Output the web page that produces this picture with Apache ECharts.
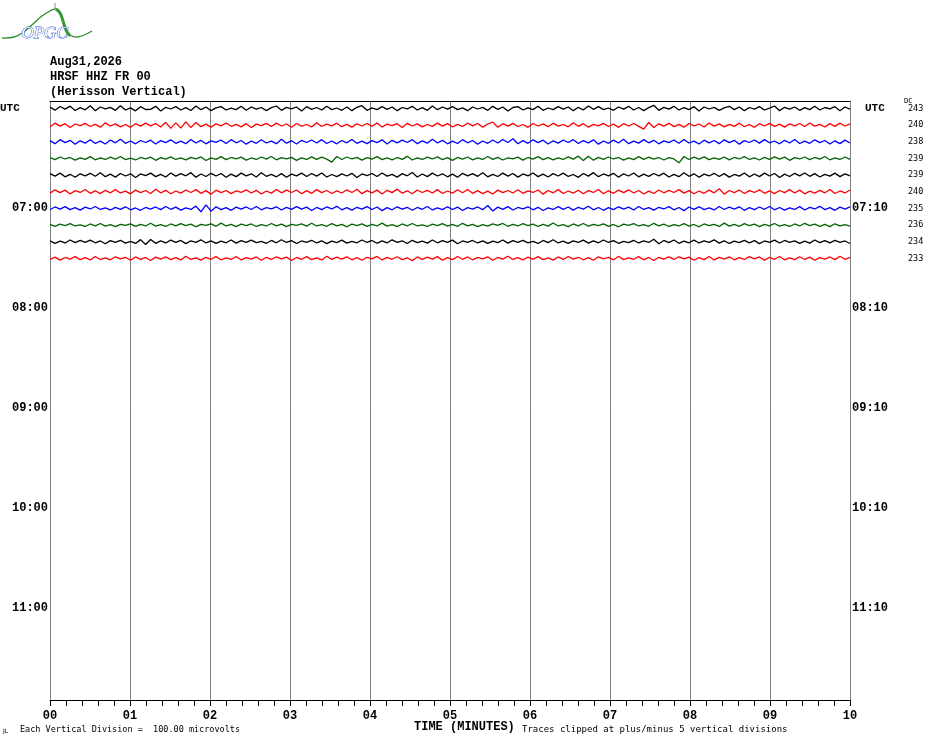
<!DOCTYPE html>
<html>
<head>
<meta charset="utf-8">
<script src="https://cdn.jsdelivr.net/npm/echarts@6/dist/echarts.min.js"></script>
<style>html,body{margin:0;padding:0;background:#fff}#c{width:930px;height:744px}</style>
</head>
<body>
<div id="c"></div>
<script>
// ---- data (microvolts, positive = up) ----
const minuteTicks = [0,1,2,3,4,5,6,7,8,9,10];
const leftTimeLabels = ['UTC','07:00','08:00','09:00','10:00','11:00'];
const rightTimeLabels = ['UTC','07:10','08:10','09:10','10:10','11:10'];
const labelRows = [0,6,12,18,24,30];
const dcValues = [243,240,238,239,239,240,235,236,234,233];
const uvPerDivision = 100;

const trace0600 = [8,-10,12,-4,14,-12,5,-8,16,-13,9,-2,7,-11,17,-9,4,-14,11,-6,
-5,13,-15,7,-3,11,-9,5,-12,15,-7,9,-13,4,11,-9,2,-7,13,-11,
9,-4,6,-13,5,15,-11,7,-2,9,-15,11,-5,6,-9,13,-7,3,-11,9,
-13,7,17,-11,4,-7,11,-5,9,-13,6,-3,13,-9,5,-11,15,-7,9,-4,
11,-7,4,-13,9,-3,7,-11,13,-5,9,-15,6,11,-9,4,-7,13,-11,3,
-7,11,-4,9,-13,7,-9,15,-5,11,-7,3,-11,9,-4,13,-9,6,-13,5,
19,-11,7,-4,13,-9,5,-7,11,-15,9,-3,7,-11,4,13,-7,9,-13,6,
-4,11,-9,2,15,-13,7,-4,9,-11,5,-7,13,-9,6,-2,11,-13,9,-4];
const trace0610 = [-10,12,-6,9,-14,7,-3,11,-8,5,-12,14,-5,8,-10,4,-13,9,-6,12,
-4,10,-11,17,-19,14,-18,20,-15,16,-9,6,-12,8,-4,13,-7,5,-10,9,
-14,6,-3,11,-8,12,-5,7,-13,10,-6,4,-11,15,-8,6,-4,12,-9,5,
-12,8,-5,10,-7,13,-11,6,-3,9,-14,11,-5,8,-10,4,-7,12,-6,9,
-11,5,-8,13,-4,10,-12,7,18,-13,9,-6,11,-8,4,-13,10,-5,8,-9,
12,-6,4,-10,14,-7,9,-12,5,-4,11,-8,6,-13,9,-5,10,-7,-24,16,
-14,8,-6,11,-9,5,-12,10,-4,7,-11,13,-6,8,-10,5,-7,12,-9,4,
-13,9,-5,11,-7,6,-12,8,-4,10,-8,13,-6,5,-11,9,-7,12,-5,8];
const trace0620 = [7,-11,13,-5,9,-14,6,-8,12,-10,4,-13,11,-6,15,-9,5,-12,8,-4,
10,-13,7,-5,12,-9,4,-11,14,-7,9,-12,6,-3,11,-10,13,-6,8,-14,
5,-9,12,-7,4,-11,16,-8,6,-13,9,-4,11,-7,13,-10,5,-12,8,-6,
14,-9,4,-11,7,-5,12,-13,9,-6,10,-4,13,-11,6,-8,15,-7,9,-12,
4,-10,13,-6,8,-14,5,-9,11,-7,14,-4,18,-12,7,-9,12,-5,10,-13,
6,-8,11,-4,13,-10,7,-6,12,-14,5,-9,10,-7,15,-11,4,-8,13,-6,
9,-12,6,-5,11,-9,14,-7,4,-13,10,-6,8,-11,12,-5,9,-14,7,-4,
11,-8,13,-6,5,-12,9,-7,14,-10,4,-9,12,-5,8,-13,6,-11,10,-7];
const trace0630 = [5,-7,9,-3,6,-10,4,-5,11,-8,3,-6,8,-4,12,-7,2,-9,6,-3,
8,-11,5,-4,10,-6,3,-8,7,-2,9,-12,4,-5,11,-7,6,-3,8,-10,
3,-6,9,-4,12,-8,5,-3,7,-11,4,-6,10,-5,8,-4,-22,12,-6,9,
-3,7,-10,5,-4,11,-7,3,-8,6,-5,13,-9,4,-6,8,-3,10,-7,5,
-11,6,-4,9,-8,3,-6,12,-5,7,-9,4,-3,8,-10,6,-4,11,-7,5,
-8,3,-6,10,-4,14,-12,13,-10,7,-5,9,-3,6,-10,4,-7,11,-5,8,
-4,6,-9,5,-3,-26,12,-6,8,-4,10,-7,3,-5,9,-8,6,-3,11,-6,
4,-9,7,-5,10,-4,8,-11,5,-3,9,-7,6,-4,12,-8,3,-6,9,-5];
const trace0640 = [9,-6,12,-10,5,-13,8,-4,11,-7,14,-9,6,-12,10,-5,8,-14,7,-3,
12,-9,5,-11,13,-6,9,-4,15,-12,7,-8,11,-5,10,-13,6,-9,12,-4,
8,-11,14,-7,5,-10,9,-13,6,-4,12,-8,10,-6,13,-11,4,-9,8,-5,
11,-14,7,-3,10,-8,13,-6,5,-12,9,-4,16,-11,7,-9,12,-5,8,-10,
6,-13,11,-4,9,-7,14,-10,5,-8,12,-6,10,-12,7,-4,13,-9,6,-11,
9,-5,12,-8,4,-13,10,-6,15,-9,7,-4,11,-12,8,-5,13,-10,6,-7,
10,-4,12,-11,5,-9,14,-7,8,-13,6,-5,11,-8,9,-12,4,-6,13,-10,
7,-9,12,-5,10,-14,6,-8,11,-4,13,-7,9,-11,5,-6,12,-9,8,-4];
const trace0650 = [-8,12,-5,10,-13,7,-4,14,-9,6,-11,9,-6,13,-7,4,-12,10,-5,8,
-10,15,-6,9,-12,5,-8,11,-4,13,-9,7,-14,10,-5,8,-11,6,-3,12,
-7,9,-13,5,-8,14,-6,10,-4,11,-12,7,-9,13,-5,8,-10,6,-7,12,
-4,15,-11,7,-6,10,-13,9,-5,16,-8,6,-12,11,-4,9,-7,13,-10,5,
-8,12,-6,14,-9,7,-11,4,-13,10,-5,8,-7,12,-9,6,-4,11,-14,8,
-6,13,-10,5,-8,9,-12,7,-4,14,-11,6,-9,10,-5,12,-7,8,-13,4,
-10,11,-6,9,-4,13,-8,7,-12,5,-9,10,-6,18,-14,8,-5,11,-10,7,
-4,12,-9,6,-11,8,-5,13,-7,10,-12,4,-8,9,-6,14,-10,5,-7,11];
const trace0700 = [-6,9,-4,11,-7,5,-10,8,-3,12,-6,4,-9,7,-5,10,-8,3,-11,6,
-4,9,-7,12,-5,8,-10,4,-6,14,-20,22,-16,10,-7,5,-11,8,-4,9,
-6,12,-8,5,-3,10,-9,7,-5,11,-4,8,-12,6,-7,9,-3,13,-8,5,
-10,7,-4,11,-6,9,-13,5,-8,10,-4,7,-11,6,-5,12,-9,4,-7,10,
-6,8,-12,5,-4,9,-7,18,-15,8,-5,11,-9,6,-3,10,-8,7,-12,4,
-6,11,-5,9,-10,7,-4,13,-8,6,-11,5,-7,10,-4,8,-9,12,-6,5,
-10,7,-3,11,-8,6,-13,9,-5,10,-7,4,-9,12,-6,8,-4,10,-11,5,
-7,9,-5,12,-8,6,-10,4,-6,11,-9,7,-3,13,-7,5,-11,8,-4,10];
const trace0710 = [4,-7,6,-3,9,-5,2,-8,7,-4,10,-6,3,-9,5,-2,8,-7,4,-5,
11,-6,3,-8,7,-4,9,-3,6,-10,5,-2,8,-7,12,-5,4,-9,6,-3,
7,-8,3,-5,10,-4,6,-9,4,-2,8,-6,11,-5,3,-7,9,-4,5,-10,
6,-3,8,-7,4,-5,12,-6,3,-9,7,-4,10,-5,2,-8,6,-3,9,-6,
4,-7,11,-4,5,-9,3,-6,8,-2,10,-7,4,-5,9,-3,6,-8,4,-6,
13,-5,3,-9,7,-4,10,-6,5,-3,8,-7,4,-10,6,-2,9,-5,3,-7,
11,-4,6,-8,3,-5,9,-6,4,-10,7,-3,5,-8,12,-6,4,-7,9,-3,
6,-9,5,-4,10,-6,3,-8,7,-5,11,-3,6,-7,4,-9,8,-5,3,-6];
const trace0720 = [6,-9,4,-7,11,-5,8,-3,10,-6,5,-12,7,-4,9,-8,3,-10,13,-16,
14,-9,5,-7,10,-4,8,-11,6,-3,12,-7,5,-9,4,-6,11,-8,7,-4,
10,-5,3,-9,8,-6,12,-4,7,-10,5,-3,9,-7,6,-11,4,-5,10,-8,
3,-6,11,-4,8,-9,5,-7,12,-3,6,-10,9,-5,4,-8,11,-6,7,-4,
10,-12,5,-3,8,-7,6,-9,4,-5,11,-8,7,-4,9,-6,3,-10,8,-5,
12,-7,4,-9,6,-3,10,-8,5,-6,11,-4,7,-9,3,-5,9,-7,6,-4,
15,-12,8,-5,11,-9,4,-6,10,-7,5,-3,12,-8,6,-10,4,-5,9,-6,
7,-11,5,-4,10,-7,8,-3,6,-9,4,-8,11,-5,7,-6,9,-4,5,-10];
const trace0730 = [-5,8,-10,6,-4,11,-7,5,-9,12,-6,4,-8,10,-3,7,-11,9,-5,6,
-12,8,-4,10,-7,5,-9,13,-6,4,-10,7,-5,11,-8,3,-6,12,-9,5,
-4,9,-11,7,-6,10,-3,8,-12,6,-5,11,-7,4,-9,13,-6,8,-4,10,
-8,5,-11,7,-3,12,-9,6,-5,10,-7,4,-13,9,-6,8,-4,11,-10,5,
-7,12,-5,9,-8,6,-3,10,-11,7,-4,13,-6,5,-9,8,-5,11,-7,4,
-10,9,-6,12,-4,7,-8,5,-11,10,-3,6,-9,13,-7,4,-5,11,-8,6,
-12,7,-4,9,-6,10,-3,8,-11,5,-7,12,-9,6,-4,10,-8,5,-6,11,
-3,9,-10,7,-5,12,-8,4,-7,10,-6,8,-11,5,-4,9,-7,13,-5,6];

const traces = [trace0600,trace0610,trace0620,trace0630,trace0640,trace0650,trace0700,trace0710,trace0720,trace0730];
const traceColors = ['#000000','#ff0000','#0000ff','#006400'];

const MONO = '"Liberation Mono","DejaVu Sans Mono",monospace';
const series = traces.map((tr, row) => ({
  type: 'line',
  showSymbol: false,
  silent: true,
  animation: false,
  lineStyle: { width: 1.3, color: traceColors[row % 4] },
  data: tr.map((v, i) => [i * 10 / (tr.length - 1), row - v / uvPerDivision])
}));

const chart = echarts.init(document.getElementById('c'), null, { renderer: 'canvas' });
chart.setOption({
  animation: false,
  backgroundColor: '#ffffff',
  title: {
    text: 'Aug31,2026\nHRSF HHZ FR 00\n(Herisson Vertical)',
    left: 50, top: 54, padding: 0,
    textStyle: { fontFamily: MONO, fontWeight: 'bold', fontSize: 12, lineHeight: 15, color: '#000' }
  },
  grid: { left: 50, right: 80, top: 101, bottom: 44, outerBoundsMode: 'none', containLabel: false },
  xAxis: [{
    type: 'value', min: 0, max: 10, interval: 1, position: 'bottom',
    axisLine: { show: true, onZero: false, lineStyle: { color: '#000', width: 1 } },
    axisTick: { show: true, length: 6, lineStyle: { color: '#000' } },
    minorTick: { show: true, splitNumber: 5, length: 6, lineStyle: { color: '#000' } },
    splitLine: { show: true, lineStyle: { color: '#808080', width: 1 } },
    axisLabel: {
      margin: 10, color: '#000', fontFamily: MONO, fontWeight: 'bold', fontSize: 12,
      formatter: v => String(minuteTicks[Math.round(v)]).padStart(2, '0')
    }
  }, {
    type: 'value', min: 0, max: 10, position: 'top',
    axisLine: { show: true, onZero: false, lineStyle: { color: '#000', width: 1 } },
    axisTick: { show: false }, minorTick: { show: false }, axisLabel: { show: false }, splitLine: { show: false }
  }],
  yAxis: [{
    type: 'value', inverse: true, min: -0.45, max: 35.5, position: 'left',
    axisLine: { show: false }, axisTick: { show: false }, splitLine: { show: false },
    axisLabel: {
      customValues: labelRows, margin: 2, color: '#000',
      fontFamily: MONO, fontWeight: 'bold', fontSize: 12,
      formatter: v => v === 0 ? '{u|UTC}' : leftTimeLabels[labelRows.indexOf(v)],
      rich: { u: { width: 48, align: 'left', fontFamily: MONO, fontWeight: 'bold', fontSize: 11, color: '#000' } }
    }
  }, {
    type: 'value', inverse: true, min: -0.45, max: 35.5, position: 'right',
    axisLine: { show: false }, axisTick: { show: false }, splitLine: { show: false },
    axisLabel: {
      customValues: labelRows, margin: 2, color: '#000',
      fontFamily: MONO, fontWeight: 'bold', fontSize: 12,
      formatter: v => v === 0 ? '{u|UTC}' : rightTimeLabels[labelRows.indexOf(v)],
      rich: { u: { padding: [0, 0, 0, 13], fontFamily: MONO, fontWeight: 'bold', fontSize: 11, color: '#000' } }
    }
  }, {
    type: 'value', inverse: true, min: -0.45, max: 35.5, position: 'right', offset: 56,
    axisLine: { show: false }, axisTick: { show: false }, splitLine: { show: false },
    axisLabel: {
      customValues: dcValues.map((d, i) => i), margin: 2, color: '#000',
      fontFamily: '"DejaVu Sans Mono",monospace', fontSize: 8.5,
      formatter: v => String(dcValues[v])
    }
  }],
  graphic: [
    { type: 'polyline', silent: true, shape: { points: [[2,38],[14,37],[24,32],[33,24],[42,16],[50,11],[56,9],[60,12],[63,20],[66,29],[70,35],[78,37],[92,31]], smooth: 0.4 },
      style: { stroke: '#2e8b2e', lineWidth: 1.3, fill: null } },
    { type: 'polyline', silent: true, shape: { points: [[56,9],[60,13],[63,21],[66,30],[70,36]], smooth: 0.4 },
      style: { stroke: '#3a9a3a', lineWidth: 3, fill: null } },
    { type: 'line', silent: true, shape: { x1: 55, y1: 3, x2: 55, y2: 10 }, style: { stroke: '#6aa86a', lineWidth: 1 } },
    { type: 'text', silent: true, left: 21, top: 25, style: { text: 'OPGC', font: 'italic 17px "Liberation Serif",serif', fill: '#fff', stroke: '#2a4fd0', lineWidth: 0.9 } },
    { type: 'text', silent: true, left: 904, top: 98, style: { text: 'DC', font: '7px "DejaVu Sans Mono",monospace', fill: '#000' } },
    { type: 'text', silent: true, left: 3, top: 728, style: { text: 'JL', font: '6px "DejaVu Sans",sans-serif', fill: '#000' } },
    { type: 'text', silent: true, left: 20, top: 725, style: { text: 'Each Vertical Division =  100.00 microvolts', font: '8.5px "DejaVu Sans Mono",monospace', fill: '#000' } },
    { type: 'text', silent: true, left: 414, top: 721, style: { text: 'TIME (MINUTES)', font: 'bold 12px ' + MONO, fill: '#000' } },
    { type: 'text', silent: true, left: 522, top: 725, style: { text: 'Traces clipped at plus/minus 5 vertical divisions', font: '9px "DejaVu Sans Mono",monospace', fill: '#000' } }
  ],
  series: series
});
</script>
</body>
</html>
